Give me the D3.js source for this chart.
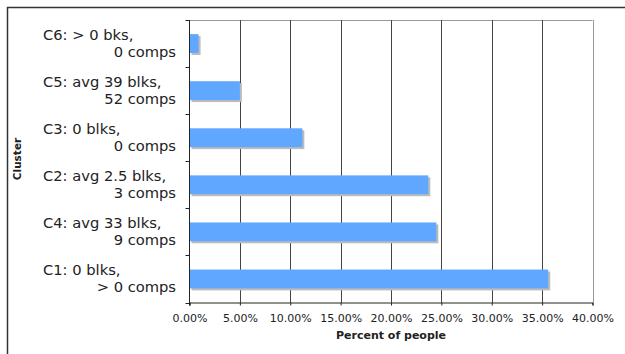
<!DOCTYPE html>
<html><head><meta charset="utf-8">
<script src="https://cdn.jsdelivr.net/npm/d3@7"></script>
<style>body{margin:0;background:#fff}svg{display:block}</style>
</head><body>
<script>
const categories = ["C6", "C5", "C3", "C2", "C4", "C1"];
const labelLine1 = ["C6: > 0 bks,", "C5: avg 39 blks,", "C3: 0 blks,", "C2: avg 2.5 blks,", "C4: avg 33 blks,", "C1: 0 blks,"];
const labelLine2 = ["0 comps", "52 comps", "0 comps", "3 comps", "9 comps", "> 0 comps"];
const values = [0.9, 5.0, 11.2, 23.7, 24.5, 35.6];
const xTicks = [0, 5, 10, 15, 20, 25, 30, 35, 40];

const W = 625, H = 354;
const m = {left: 189.5, right: 592.5, top: 20, bottom: 302.5};
const svg = d3.select("body").append("svg").attr("width", W).attr("height", H);
const font = "Verdana, 'DejaVu Sans', sans-serif";

// outer frame (top + left)
svg.append("line").attr("x1", 7).attr("x2", W).attr("y1", 7.5).attr("y2", 7.5).attr("stroke", "#333").attr("stroke-width", 1.5);
svg.append("line").attr("x1", 7.5).attr("x2", 7.5).attr("y1", 7).attr("y2", H).attr("stroke", "#333").attr("stroke-width", 1.5);

const x = d3.scaleLinear().domain([0, 40]).range([m.left, m.right]);
const y = d3.scaleBand().domain(categories).range([m.top, m.bottom]).paddingInner(0.6).paddingOuter(0.3);
const yb = d3.scaleBand().domain(categories).range([m.top, m.bottom]);

// plot frame top
svg.append("line").attr("x1", m.left).attr("x2", m.right).attr("y1", m.top + 0.5).attr("y2", m.top + 0.5).attr("stroke", "#999");

// gridlines
svg.append("g").selectAll("line").data(xTicks.slice(1)).join("line")
  .attr("x1", d => Math.round(x(d)) + 0.5).attr("x2", d => Math.round(x(d)) + 0.5)
  .attr("y1", m.top).attr("y2", m.bottom)
  .attr("stroke", d => d === 40 ? "#999" : "#444").attr("stroke-width", 1);

// bars shadows
svg.append("g").selectAll("rect").data(values).join("rect")
  .attr("x", x(0) + 2).attr("y", (d, i) => y(categories[i]) + 2)
  .attr("width", d => x(d) - x(0)).attr("height", y.bandwidth())
  .attr("fill", "#bbb");
svg.append("g").selectAll("rect").data(values).join("rect")
  .attr("x", x(0)).attr("y", (d, i) => y(categories[i]))
  .attr("width", d => x(d) - x(0)).attr("height", y.bandwidth())
  .attr("fill", "#60a8ff");

// bottom axis
const xAxis = d3.axisBottom(x).tickValues(xTicks).tickSize(3).tickFormat(d => d.toFixed(2) + "%");
const gx = svg.append("g").attr("transform", `translate(0,${m.bottom})`).call(xAxis);
gx.select(".domain").attr("stroke", "#222");
gx.selectAll(".tick line").attr("stroke", "#222");
gx.selectAll("text").attr("font-family", font).attr("font-size", 11).attr("fill", "#222").attr("y", 19.5).attr("dy", 0);

// left axis
const gy = svg.append("g").attr("transform", `translate(${m.left},0)`);
gy.append("line").attr("x1", 0).attr("x2", 0).attr("y1", m.top).attr("y2", m.bottom + 3).attr("stroke", "#222");
const seps = categories.map(c => yb(c)).concat([m.bottom]);
gy.selectAll("line.t").data(seps).join("line").attr("class", "t")
  .attr("x1", -4).attr("x2", 0).attr("y1", d => Math.round(d) + 0.5).attr("y2", d => Math.round(d) + 0.5).attr("stroke", "#222");

// category labels
const lab = svg.append("g").attr("font-family", font).attr("font-size", 14.7).attr("fill", "#222");
lab.selectAll("text.l1").data(categories).join("text").attr("class", "l1")
  .attr("x", 43).attr("y", (c, i) => yb(c) + yb.bandwidth() / 2 - 4).text((c, i) => labelLine1[i]);
lab.selectAll("text.l2").data(categories).join("text").attr("class", "l2")
  .attr("x", 176).attr("text-anchor", "end")
  .attr("y", (c, i) => yb(c) + yb.bandwidth() / 2 + 13.5).text((c, i) => labelLine2[i]);

// axis titles
svg.append("text").attr("x", (m.left + m.right) / 2).attr("y", 339).attr("text-anchor", "middle")
  .attr("font-family", font).attr("font-size", 11).attr("font-weight", "bold").attr("fill", "#222").text("Percent of people");
svg.append("text").attr("transform", "translate(21,159) rotate(-90)").attr("text-anchor", "middle")
  .attr("font-family", font).attr("font-size", 10.5).attr("font-weight", "bold").attr("fill", "#222").text("Cluster");
</script>
</body></html>
